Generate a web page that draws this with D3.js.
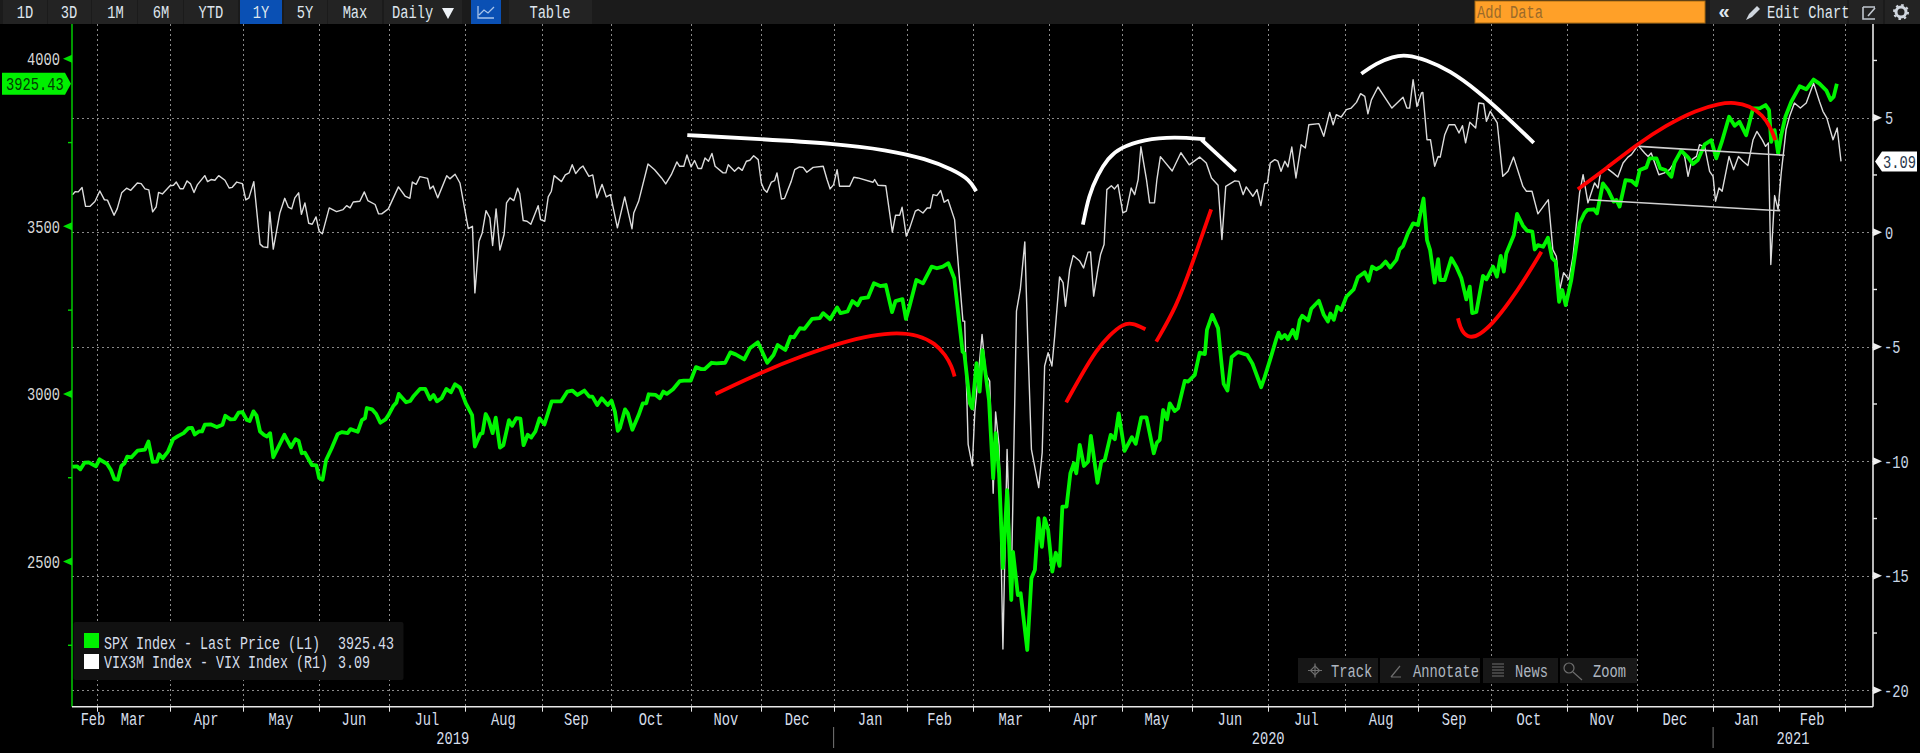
<!DOCTYPE html>
<html><head><meta charset="utf-8">
<script src="https://cdn.jsdelivr.net/npm/d3@7/dist/d3.min.js"></script>
<style>
html,body{margin:0;padding:0;background:#000;overflow:hidden}
svg{display:block}
text{font-family:"Liberation Mono","DejaVu Sans Mono",monospace;font-size:17.5px}
</style></head><body>
<svg id="c" width="1920" height="753"></svg>
<script>
// Sessions are trading days counted from 1 Mar 2019.
const monthLabels=["Feb","Mar","Apr","May","Jun","Jul","Aug","Sep","Oct","Nov","Dec","Jan","Feb","Mar","Apr","May","Jun","Jul","Aug","Sep","Oct","Nov","Dec","Jan","Feb"];
const monthStartSessions=[0,21,42,64,84,106,128,148,171,191,212,233,252,274,295,315,337,359,380,401,423,443,465,484,503];
const yearLabels=[["2019",-7.1,212],["2020",209,465],["2021",465,511]];
const yearDividers=[212,465];
const leftMajor=[2500,3000,3500,4000];
const leftMinor=[2250,2750,3250,3750];
const rightMajor=[5,0,-5,-10,-15,-20];
const rightMinor=[7.5,2.5,-2.5,-7.5,-12.5,-17.5];
const toolbarLeft=["1D","3D","1M","6M","YTD","1Y","5Y","Max"];

const spxSeries=[[-7,2783],[-5.6,2784],[-4.7,2775],[-3.5,2795],[-2.3,2796],[-0.2,2784],[0.8,2805],[3,2791],[4.1,2773],[5.1,2746],[6.1,2744],[7.1,2785],[8,2793],[8.8,2813],[10,2811],[11.8,2831],[13.9,2834],[14.9,2858],[16.1,2797],[17.3,2798],[18,2820],[19,2808],[20.5,2828],[22,2865],[23.5,2875],[25,2883],[26.4,2898],[27.4,2899],[28.2,2879],[29.4,2888],[30.3,2888],[31.1,2908],[32.9,2909],[34.6,2901],[36.2,2908],[37,2935],[38.5,2924],[39.7,2925],[40.8,2944],[41.9,2946],[43.2,2922],[44,2919],[45.1,2948],[46,2935],[47,2888],[48.1,2878],[49,2873],[49.9,2883],[50.8,2811],[54,2878],[55.9,2841],[57.2,2865],[58.1,2860],[59,2823],[59.9,2825],[61.9,2788],[63.2,2787],[64,2749],[65,2744],[66,2803],[67.6,2838],[69.3,2880],[70.5,2886],[72.2,2883],[73,2895],[75.1,2887],[76.3,2922],[77.2,2928],[77.7,2958],[79.2,2954],[80.4,2940],[81.6,2914],[83.1,2924],[83.9,2936],[85.4,2965],[86.2,2974],[86.9,3000],[89,2975],[90.2,2979],[91.2,2994],[93,3015],[94.5,3015],[95.9,2984],[96.9,2997],[97.9,2978],[99.2,2987],[100.6,3015],[101.9,3005],[103.1,3029],[104.5,3019],[106.2,2972],[108,2937],[108.8,2843],[110.4,2881],[111,2883],[111.9,2940],[112.7,2925],[113.9,2883],[114.8,2929],[116,2840],[117,2847],[118.6,2922],[119.5,2905],[120.7,2928],[121.9,2926],[122.8,2847],[124,2878],[125,2870],[126.2,2888],[127.4,2927],[128.8,2909],[130.9,2978],[133.6,2978],[135.4,3007],[136.8,3010],[138.3,2997],[140.3,3010],[141.7,2992],[142.6,2992],[144,2967],[145.3,2987],[147,2967],[148.1,2980],[149.1,2947],[149.9,2890],[150.5,2898],[152,2954],[152.8,2942],[154.1,2893],[155.9,2937],[157.1,2972],[158.1,2972],[158.8,2999],[160.8,2997],
[162,2987],[163,3007],[164,3000],[165.8,3014],[167.7,3038],[168.9,3040],[170.9,3040],[172.4,3080],[173.9,3074],[174.9,3074],[176.9,3093],[178.3,3091],[180.8,3093],[182.3,3124],[183.8,3118],[186.3,3103],[187.9,3136],[190.2,3154],[192.9,3093],[194.7,3116],[195.9,3146],[198.1,3131],[199.6,3171],[200.6,3169],[202.3,3196],[203.6,3194],[205.8,3224],[208,3226],[209,3241],[211,3223],[213,3258],[214,3241],[216,3246],[217.4,3277],[218.9,3265],[219.9,3285],[221.9,3288],[223.6,3330],[225.4,3322],[227,3325],[228.8,3244],[229.8,3277],[231.8,3283],[232.8,3224],[233.8,3260],[235.8,3340],[237.7,3330],[240.2,3380],[241.7,3375],[243.4,3380],[245,3390],[246.7,3345],[249.1,3126],[249.6,3121],
[251.2,2972],[251.9,2957],[253.1,3092],[254,3007],[254.8,3131],[256.7,2982],[257.9,2748],[258.6,2883],[259.6,2763],[260.7,2480],[261.9,2713],[263.1,2385],[263.6,2529],[265,2400],[265.8,2405],[267.7,2236],[268.9,2450],[269.9,2475],[270.9,2629],[271.9,2544],[272.7,2629],[273.7,2594],[274.9,2470],[275.9,2526],[277,2487],[277.8,2664],[279,2664],[280.1,2763],[281.1,2793],[281.8,2763],[282.8,2848],[284,2785],[285.2,2798],[286,2875],[287.9,2735],[289,2798],[290,2803],[291.7,2878],[292.9,2865],[294,2942],[295.7,2830],[297.8,2871],[298.9,2851],[300.5,2930],[302,2930],[304.1,2823],[305,2855],[305.8,2863],[306.8,2952],[307.9,2924],[308.7,2972],[310.1,2949],[311.1,2957],[313,3039],[314,3037],[315.9,3057],[317.3,3123],[318.8,3119],[319.4,3191],[320.9,3236],[322.6,3196],[323.5,3100],[324.2,3030],[325.3,3010],[326.5,3110],[328.3,3125],[331,3116],[332.5,3090],[335,3020],[336,3050],[337.5,3100],
[339.4,3166],[340,3183],[340.8,3166],[341.8,3176],[342.7,3163],[344.1,3191],[345.1,3166],[346.1,3221],[346.8,3233],[348.5,3219],[349.4,3254],[351.6,3278],[353,3236],[354.2,3216],[354.9,3240],[355.9,3221],[356.9,3260],[358,3250],[359.5,3290],[361.6,3312],[362.8,3348],[364.8,3363],[365.9,3338],[366.9,3380],[368.1,3372],[369.5,3380],[370.8,3395],[372.1,3377],[373.9,3400],[374.8,3431],[375.8,3441],[377.2,3479],[378.7,3509],[380.1,3504],[381.7,3583],[382.7,3459],[383.6,3429],[384.9,3332],[385.9,3402],[386.5,3340],[387.8,3340],[389.7,3405],[391.1,3380],[392.6,3345],[394,3282],[395,3320],[395.7,3241],[396.9,3245],[398.8,3352],[399.8,3342],[401.7,3380],[402.8,3350],[403.9,3412],[404.8,3365],[405.5,3419],[407.7,3474],[408.6,3537],[410.3,3502],[411.5,3487],[413,3484],[413.7,3431],[414.6,3444],[416.1,3439],[417.5,3466],[418.7,3405],[419.7,3395],[420.7,3275],[421.6,3310],[422.6,3265],[424.2,3340],[426.6,3509],[428,3539],[428.8,3549],[430.7,3551],[431.6,3539],[433.3,3628],[434.8,3608],[436.4,3574],[437.2,3579],[438.1,3559],[439.8,3638],[441.5,3636],[442.9,3623],[443.9,3668],[445.8,3676],[446.7,3703],[448.7,3703],[449.8,3673],[451.3,3668],[453,3648],[453.9,3690],[455.8,3726],[457.8,3706],[459.2,3686],[460.6,3698],[462.6,3745],[464.5,3757],[465.9,3703],[467.5,3752],[469.6,3827],[471.2,3800],[472.6,3812],[474.5,3772],[476.5,3852],[478.4,3852],[480.1,3862],[481.1,3847],[481.7,3752],[482.7,3787],[483.7,3718],[484.6,3772],[485.8,3827],[487.5,3872],[489.9,3918],[491.8,3909],[493.9,3938],[495.6,3926],[497.6,3905],[498.8,3877],[499.7,3887],[500.6,3925.43]];

const spreadSeries=[[-7,1.63],[-6.2,1.77],[-5.3,1.76],[-4.2,1.95],[-3.2,1.13],[-1.9,1.13],[-0.5,1.34],[0.9,1.8],[2.2,1.42],[3.1,1.4],[5,0.74],[5.9,1.02],[7.2,1.72],[8.6,1.92],[9.8,1.83],[11.7,2.15],[12.8,2.12],[13.9,1.89],[15,1.85],[16.1,0.89],[17.1,1.1],[17.8,1.74],[18.9,1.67],[21.1,2.03],[22.1,2.05],[22.9,2.19],[24,1.9],[24.9,1.9],[26,2.24],[27,2.11],[28,1.73],[29,2.08],[31.1,2.47],[31.9,2.21],[32.9,2.3],[34,2.27],[35.1,2.47],[36.9,2.27],[38.1,1.93],[39,1.96],[40.3,2.19],[41.9,2.12],[42.9,1.41],[43.8,1.5],[45.2,2.21],[47,-0.52],[47.9,-0.64],[49.2,-0.67],[49.8,0.89],[50.8,-0.74],[52.7,0.84],[54.1,1.48],[55.1,1.1],[56.1,1.02],[57,1.5],[58.1,1.72],[58.9,0.78],[59.9,1.28],[61,0.39],[62,0.35],[63.1,0.67],[64,0.04],[64.9,-0.07],[66.9,1.06],[69,0.9],[70.9,0.99],[71.9,1.16],[72.9,1.06],[73.8,1.32],[75.7,1.35],[77,1.76],[78,1.38],[80.1,1.21],[81.1,0.8],[82,0.8],[83.9,1.02],[86.8,1.98],[88.7,1.58],[90.1,1.48],[90.8,2.19],[91.9,2.09],[93,2.43],[95.2,2.35],[95.9,1.89],[96.8,2.02],[98.1,1.5],[100.7,2.47],[101.6,2.33],[103.1,2.53],[104.5,2.15],[106.9,0.16],[108.1,0.26],[108.8,-2.65],[110,-0.39],[110.9,-0.03],[112,0.94],[113.1,0.63],[113.9,-0.58],[114.9,1.02],[116,-0.78],[117.2,-0.1],[117.9,1.28],[118.9,1.5],[120,1.38],[121.1,1.92],
[121.7,1.69],[122.7,0.51],[123.8,0.48],[124.9,0.35],[127,1.16],[127.7,0.55],[128.9,0.48],[129.9,1.54],[130.8,1.79],[131.6,2.47],[133.7,2.21],[134.8,2.5],[135.9,2.59],[136.8,2.95],[137.8,2.56],[139,2.79],[139.9,2.89],[141.6,2.44],[142.7,2.5],[143.9,1.5],[145.4,2.09],[146.6,1.54],[147.8,1.64],[149.8,0.19],[151.9,1.54],[154,0.15],[154.5,0.84],[155.9,1.35],[158.6,2.98],[160.5,2.73],[162.5,2.37],[163.7,2.11],[165.3,2.51],[166.9,3.07],[167.7,2.88],[168.9,2.88],[169.8,3.37],[171,2.85],[172,3.13],[173,2.78],[174,2.78],[175,3.24],[176,3.1],[177,3.44],[177.9,2.88],[180.2,2.59],[181,2.59],[181.7,2.95],[183.5,2.66],[184.6,2.83],[185.7,2.7],[186.9,3.1],[187.9,3.14],[189,3.34],[190.3,3.17],[191.2,2.15],[192,1.86],[192.8,1.74],[194.1,2.19],[195,2.25],[195.7,2.59],[197,1.45],[197.9,1.48],[199.8,2.22],[200.8,2.73],[202.2,2.85],[203.2,2.83],[204.3,2.62],[206.1,2.83],[209,2.88],[210.1,2.3],[211,1.89],[212,2.08],[213,2.73],[213.7,2.01],[216.6,2.01],[217.8,2.4],[219,2.37],[223.3,2.18],[223.8,2.3],[224.8,2.05],[227,2.03],[228.9,0],[229.8,0.74],[231,0.74],[231.7,1.09],[232.9,-0.17],[233.9,0.19],[235.5,0.92],[236.3,0.99],[237.7,0.84],[238.9,1.06],[239.8,1.06],[240.6,1.64],[241.7,1.6],[242.8,1.82],[243.8,1.31],[244.9,1.42],[246.8,0.55],
[249.2,-3.88],[249.7,-3.88],[250.7,-9.26],[251.9,-10.2],[252.6,-7.88],[254.7,-4.46],[255.8,-6.2],[256.9,-6.5],[257.9,-11.4],[258.6,-7.85],[259.6,-9.33],[260.7,-18.2],[261.9,-9.48],[263.1,-15.5],[264.6,-3.44],[265.7,-2.5],[267,-0.42],[267.9,-4.97],[268.9,-9.48],[271,-11.15],[272,-9.62],[272.7,-5.84],[273.7,-5.26],[274.8,-5.84],[275.6,-4.53],[277,-1.95],[278,-2.2],[278.7,-3.23],[279.9,-1.63],[280.9,-1.02],[282.8,-1.26],[283.9,-1.56],[285.2,-0.87],[285.9,-0.86],[286.8,-2.79],[288,-1.63],[288.8,-0.97],[289.8,-0.54],[290.6,1.86],[291.9,2.03],[292.8,1.89],[293.8,2.08],[295.2,0.84],[296.2,0.92],[297.6,1.93],[298.6,1.64],[299.6,2.3],[300.4,3.73],[302,2.3],[302.9,1.28],[304.3,1.28],[305,2.3],[306,3.3],[309.4,2.67],[311.9,3.47],[314.3,2.94],[317.3,3.28],
[319.2,3.02],[320.7,2.37],[322.6,2.05],[323.7,-0.32],[324.8,2],[327.4,2.24],[328.6,2.22],[329.8,1.64],[330.7,1.98],[332.6,1.57],[333.8,1.86],[334.9,1.16],[336,2.12],[336.8,2.15],[337.6,3.02],[338.9,3.17],[339.8,3.1],[340.7,2.66],[341.8,3.1],[342.7,2.85],[343.8,3.72],[345,2.37],[346.5,3.82],[347.7,3.68],[348.7,4.69],[351.6,4.74],[353,4.19],[354.7,5.23],[355.7,4.69],[356.6,5.13],[358,5.03],[359.5,5.35],[360.9,5.42],[362.4,5.67],[363.6,6.05],[364.8,5.93],[365.7,5.17],[366.7,5.78],[368.6,6.34],[372.6,5.42],[375.8,5.89],[376.9,5.42],[377.7,5.42],[378.7,6.66],[379.8,5.49],[381.1,6.08],[381.5,6.1],[382.7,4.04],[383.7,4.04],[384.9,2.88],[385.9,3.31],[386.5,3.28],[387.8,4.26],[389,4.69],[390.7,4.69],[391.9,4.33],[392.9,4.65],[393.8,3.9],[395,4.8],[396.7,4.55],[397.6,5.64],[399,5.61],[399.8,4.84],[400.9,5.28],[402.9,4.77],[404.5,2.44],[406,2.66],[407.6,3.28],[410.3,2],[411.3,1.79],[412.9,1.79],[414.6,0.8],[417.6,1.42],[418.9,-0.76],[419.9,-1.05],[420.9,-2.5],[422,-1.77],[423.5,-2.06],[424.7,-1.05],[425.6,0.26],[426.6,1.72],[427.6,2.51],[429,1.28],[430.9,2.15],[431.9,1.93],[432.6,2.59],[434.3,2.81],[436.2,2.59],[437.6,2.41],[439.1,3.02],[440.5,3.28],[441.5,3.39],[443.4,3.79],[445.3,3.46],[446.3,3.31],[447.2,3.46],[449.4,2.51],[451,2.59],[452.5,2.73],[454.4,3.17],[455.8,3.58],[456.8,3.31],[457.8,2.44],[458.9,3.17],[460.2,3.31],[461.1,3.82],[462.6,3.72],[464,2.66],[465,2.44],[465.7,1.35],[466.7,1.93],[467.6,1.79],[469.6,3.31],[470.9,2.73],[472.3,3.31],[473.6,3.1],[475,2.91],[476.5,4.04],[477.6,4.4],[479.1,4.04],[480.1,3.75],[480.9,3.9],[481.6,-1.41],[482.7,1.6],[483.7,0.99],[484.6,2.59],[486,4.48],[487,5.06],[488.4,5.64],[490.1,5.42],[491.8,5.64],[493.9,6.51],[495.6,5.71],[496.6,5.28],[497.7,4.99],[499.5,4.04],[500.7,4.55],[501.8,3.09]];

// Hand-drawn annotations, in chart units (red on the left axis, white on the right axis).
const redStrokes=[
 [[178,3000],[191.7,3067],[203.6,3116],[213.5,3151],[223.4,3176],[230.3,3183],[236.3,3176],[241.2,3151],[244.2,3116],[246,3082],[246.8,3052]],
 [[278.9,2975],[283.3,3057],[287.6,3131],[291.4,3176],[295.2,3209],[298,3212],[301.7,3193]],
 [[304.8,3156],[310.6,3260],[314.9,3380],[320.6,3551]],
 [[391.6,3226],[392.6,3186],[395,3166],[397.8,3176],[401.7,3211],[406.5,3275],[411.3,3350],[415.6,3424]],
 [[426.1,3611],[434.3,3673],[442.9,3743],[451.5,3802],[460.2,3847],[466.9,3867],[471.2,3870],[475.5,3860],[479.3,3832],[481.7,3792],[482.9,3757]]];
const whiteStrokes=[
 [[169.9,4.24],[190.7,4.07],[212.1,3.87],[227.2,3.6],[238.7,3.2],[246.3,2.73],[251.1,2.3],[253,1.79]],
 [[283.7,0.33],[285.4,1.6],[287.9,2.5],[291,3.25],[294.3,3.68],[301.3,4.06],[310.1,4.16],[318.9,4.06]],
 [[317.8,4.04],[327.7,2.66]],
 [[363.8,6.92],[368.1,7.38],[372.9,7.67],[376.7,7.75],[382.5,7.53],[389.2,7.06],[396.9,6.22],[405.5,5.06],[413.4,3.9]]];
const trendLines=[[[443.7,3.75],[485.6,3.36]],[[429.3,1.42],[484.3,0.94]]];

const svg=d3.select("#c");
const W=1920,H=753,plotLeft=72,plotRight=1873,plotTop=24,plotBottom=706.7;
const x=d3.scaleLinear().domain([-7.1,511]).range([plotLeft,plotRight]);
const yL=d3.scaleLinear().domain([2500,4000]).range([561.5,58.8]);
const yR=d3.scaleLinear().domain([-20,5]).range([690.3,117.7]);

svg.append("rect").attr("width",W).attr("height",H).attr("fill","#000");

// gridlines
const grid=svg.append("g").attr("stroke","#8a8a8a").attr("stroke-width",1).attr("stroke-dasharray","2 3");
grid.selectAll(".gv").data(monthStartSessions).join("line").attr("class","gv").attr("x1",d=>Math.round(x(d))+.5).attr("x2",d=>Math.round(x(d))+.5).attr("y1",plotTop).attr("y2",plotBottom);
grid.selectAll(".gh").data(rightMajor).join("line").attr("class","gh").attr("x1",plotLeft).attr("x2",plotRight).attr("y1",d=>Math.round(yR(d))+.5).attr("y2",d=>Math.round(yR(d))+.5);

// series
const lineR=d3.line().x(d=>x(d[0])).y(d=>yR(d[1]));
const lineL=d3.line().x(d=>x(d[0])).y(d=>yL(d[1]));
svg.append("path").attr("d",lineR(spreadSeries)).attr("fill","none").attr("stroke","#dcdcdc").attr("stroke-width",1.4).attr("stroke-linejoin","round");
svg.append("path").attr("d",lineL(spxSeries)).attr("fill","none").attr("stroke","#00f500").attr("stroke-width",3.8).attr("stroke-linejoin","round");

// annotations
const curveL=d3.line().x(d=>x(d[0])).y(d=>yL(d[1])).curve(d3.curveBasis);
const curveR=d3.line().x(d=>x(d[0])).y(d=>yR(d[1])).curve(d3.curveBasis);
svg.selectAll(".red").data(redStrokes).join("path").attr("class","red").attr("d",curveL).attr("fill","none").attr("stroke","#ff0000").attr("stroke-width",3.8);
svg.selectAll(".wht").data(whiteStrokes).join("path").attr("class","wht").attr("d",curveR).attr("fill","none").attr("stroke","#ffffff").attr("stroke-width",3.8);
svg.selectAll(".trd").data(trendLines).join("path").attr("class","trd").attr("d",lineR).attr("fill","none").attr("stroke","#d0d0d0").attr("stroke-width",1.6);

// axes frame
const axisCol="#e8e8e8";
svg.append("line").attr("x1",plotLeft).attr("x2",plotLeft).attr("y1",plotTop).attr("y2",plotBottom).attr("stroke","#00d800").attr("stroke-width",1.4);
svg.append("line").attr("x1",plotRight).attr("x2",plotRight).attr("y1",plotTop).attr("y2",plotBottom).attr("stroke",axisCol).attr("stroke-width",1.6);
svg.append("line").attr("x1",plotLeft).attr("x2",plotRight).attr("y1",plotBottom).attr("y2",plotBottom).attr("stroke",axisCol).attr("stroke-width",1.6);

// left ticks
const lg=svg.append("g");
lg.selectAll("path").data(leftMajor).join("path").attr("d",d=>`M${plotLeft} ${yL(d)-4}L${plotLeft-9} ${yL(d)}L${plotLeft} ${yL(d)+4}Z`).attr("fill","#00e000");
lg.selectAll("text").data(leftMajor).join("text").attr("x",60).attr("y",d=>yL(d)).attr("dy",".36em").attr("text-anchor","end").attr("fill","#d8d8d8").text(d=>d);
lg.selectAll("line").data(leftMinor).join("line").attr("x1",plotLeft-4).attr("x2",plotLeft).attr("y1",d=>yL(d)).attr("y2",d=>yL(d)).attr("stroke","#00d800").attr("stroke-width",1.4);

// right ticks
const rg=svg.append("g");
rg.selectAll("path").data(rightMajor).join("path").attr("d",d=>`M${plotRight} ${yR(d)-4}L${plotRight+9} ${yR(d)}L${plotRight} ${yR(d)+4}Z`).attr("fill","#eee");
rg.selectAll("text").data(rightMajor).join("text").attr("x",d=>d<0?plotRight+11:plotRight+12).attr("y",d=>yR(d)).attr("dy",".36em").attr("fill","#c9d6e6").text(d=>d);
rg.selectAll("line").data(rightMinor).join("line").attr("x1",plotRight).attr("x2",plotRight+4).attr("y1",d=>yR(d)).attr("y2",d=>yR(d)).attr("stroke",axisCol).attr("stroke-width",1.4);

// bottom ticks and labels
const bg=svg.append("g");
bg.selectAll("line").data(monthStartSessions).join("line").attr("x1",d=>Math.round(x(d))+.5).attr("x2",d=>Math.round(x(d))+.5).attr("y1",plotBottom).attr("y2",plotBottom+5).attr("stroke",axisCol);
bg.selectAll("text").data(monthLabels).join("text")
  .attr("x",(d,i)=>i===0?93:(x(monthStartSessions[i-1])+x(monthStartSessions[i]))/2)
  .attr("y",719).attr("dy",".36em").attr("text-anchor","middle").attr("fill","#d6deea").text(d=>d);
const yg=svg.append("g");
yg.selectAll("text").data(yearLabels).join("text").attr("x",d=>(x(d[1])+x(d[2]))/2).attr("y",738).attr("dy",".36em").attr("text-anchor","middle").attr("fill","#d6deea").text(d=>d[0]);
yg.selectAll("line").data(yearDividers).join("line").attr("x1",d=>x(d)).attr("x2",d=>x(d)).attr("y1",727).attr("y2",748).attr("stroke","#777");

// value flags
const lastY=yL(spxSeries[spxSeries.length-1][1]);
svg.append("path").attr("d",`M2 ${lastY-11}H65L71 ${lastY}L65 ${lastY+11}H2Z`).attr("fill","#00f000");
svg.append("text").attr("x",6).attr("y",lastY).attr("dy",".36em").attr("fill","#053a05").text("3925.43");
const lastR=yR(spreadSeries[spreadSeries.length-1][1]);
svg.append("path").attr("d",`M1875 ${lastR}L1882 ${lastR-10}H1917V${lastR+10}H1882Z`).attr("fill","#fff");
svg.append("text").attr("x",1883).attr("y",lastR).attr("dy",".36em").attr("fill","#27364a").text("3.09");

// legend
const lgd=svg.append("g");
lgd.append("rect").attr("x",73.5).attr("y",622).attr("width",330).attr("height",58).attr("rx",2).attr("fill","#111");
lgd.append("rect").attr("x",84).attr("y",633).attr("width",15).attr("height",15).attr("fill","#00f000");
lgd.append("rect").attr("x",84).attr("y",654).attr("width",15).attr("height",15).attr("fill","#fff");
[["SPX Index - Last Price (L1)","3925.43",643],["VIX3M Index - VIX Index (R1)","3.09",662]].forEach(r=>{
 lgd.append("text").attr("class","tight").attr("x",104).attr("y",r[2]).attr("dy",".36em").attr("fill","#d6deea").text(r[0]);
 lgd.append("text").attr("class","tight").attr("x",338).attr("y",r[2]).attr("dy",".36em").attr("fill","#d6deea").text(r[1]);
});

// floating chart tools
[[1298,80,"Track",1331],[1380,100,"Annotate",1413],[1483,75,"News",1515],[1560,77,"Zoom",1593]].forEach(b=>{
 svg.append("rect").attr("x",b[0]).attr("y",658).attr("width",b[1]).attr("height",25).attr("fill","#171717");
 svg.append("text").attr("x",b[3]).attr("y",670.5).attr("dy",".36em").attr("fill","#aeb6c0").text(b[2]);
});
const ic=svg.append("g").attr("stroke","#6e6e6e").attr("fill","none").attr("stroke-width",1.2);
ic.append("path").attr("d","M1308 670.5H1322M1315 663.5V677.5");
ic.append("path").attr("d","M1315 666L1319.5 670.5L1315 675L1310.5 670.5Z");
ic.append("path").attr("d","M1391 677L1400 666M1391 677H1401");
ic.append("path").attr("d","M1492 664H1504M1492 667H1504M1492 670H1504M1492 673H1504M1492 676H1504");
ic.append("circle").attr("cx",1569).attr("cy",668).attr("r",5);
ic.append("path").attr("d","M1573 672L1582 680");

// toolbar
svg.append("rect").attr("width",W).attr("height",24).attr("fill","#1b1b1b");
const leftCenters=[25,69,115.5,161,211,261,305,355];
const leftEdges=[[3,47],[48,91],[92,137],[138,183],[184,238],[240,282],[284,327],[328,382]];
toolbarLeft.forEach((t,i)=>{
 const e=leftEdges[i],on=t==="1Y";
 svg.append("rect").attr("x",e[0]).attr("y",0).attr("width",e[1]-e[0]).attr("height",24).attr("fill",on?"#0a50b4":"#232323");
 svg.append("text").attr("x",leftCenters[i]).attr("y",12).attr("dy",".36em").attr("text-anchor","middle").attr("fill","#dfe6ee").text(t);
});
svg.append("rect").attr("x",384).attr("y",0).attr("width",78).attr("height",24).attr("fill","#232323");
svg.append("text").attr("x",392).attr("y",12).attr("dy",".36em").attr("fill","#dfe6ee").text("Daily");
svg.append("path").attr("d","M442 8H454L448 19Z").attr("fill","#eef2f6");
svg.append("rect").attr("x",471).attr("y",0).attr("width",30).attr("height",24).attr("fill","#0a50b4");
svg.append("path").attr("d","M478 6V18H494M479 15L484 10L488 13L494 7").attr("fill","none").attr("stroke","#a8c4ea").attr("stroke-width",1.3);
svg.append("rect").attr("x",509).attr("y",0).attr("width",83).attr("height",24).attr("fill","#232323");
svg.append("text").attr("x",550).attr("y",12).attr("dy",".36em").attr("text-anchor","middle").attr("fill","#dfe6ee").text("Table");

svg.append("rect").attr("x",1475).attr("y",1).attr("width",230).attr("height",22).attr("fill","#ffa028").attr("stroke","#a86a10");
svg.append("text").attr("x",1477).attr("y",12).attr("dy",".36em").attr("fill","#9a6a2a").text("Add Data");
[[1710,33],[1739,108],[1849,34],[1885,35]].forEach(b=>svg.append("rect").attr("x",b[0]).attr("y",0).attr("width",b[1]).attr("height",24).attr("fill","#232323"));
svg.append("text").attr("x",1724).attr("y",11).attr("dy",".36em").attr("text-anchor","middle").attr("fill","#dfe6ee").attr("class","raw").style("font-size","20px").style("font-family","Liberation Sans").style("font-weight","bold").text("«");
svg.append("path").attr("d","M1746 20L1749 14L1757 6L1760 9L1752 17Z").attr("fill","#cfd6de");
svg.append("text").attr("x",1767).attr("y",12).attr("dy",".36em").attr("fill","#dfe6ee").text("Edit Chart");
svg.append("path").attr("d","M1863 7H1875M1863 7V19H1875M1875 8L1868 16").attr("fill","none").attr("stroke","#c0c6ce").attr("stroke-width",1.6);
svg.append("circle").attr("cx",1901).attr("cy",12).attr("r",5).attr("fill","none").attr("stroke","#d0d6de").attr("stroke-width",3);
svg.append("circle").attr("cx",1901).attr("cy",12).attr("r",7).attr("fill","none").attr("stroke","#d0d6de").attr("stroke-width",2).attr("stroke-dasharray","2.5 3");

// The reference's terminal font is narrow and tall: squeeze each label horizontally to its per-character pitch.
svg.selectAll("text:not(.raw)").each(function(){
  const t=d3.select(this),px=+t.attr("x");
  const k=(t.classed("tight")?8.0:8.25)/10.5;
  t.attr("transform",`translate(${px*(1-k)},0) scale(${k},1)`);
});
</script>
</body></html>
